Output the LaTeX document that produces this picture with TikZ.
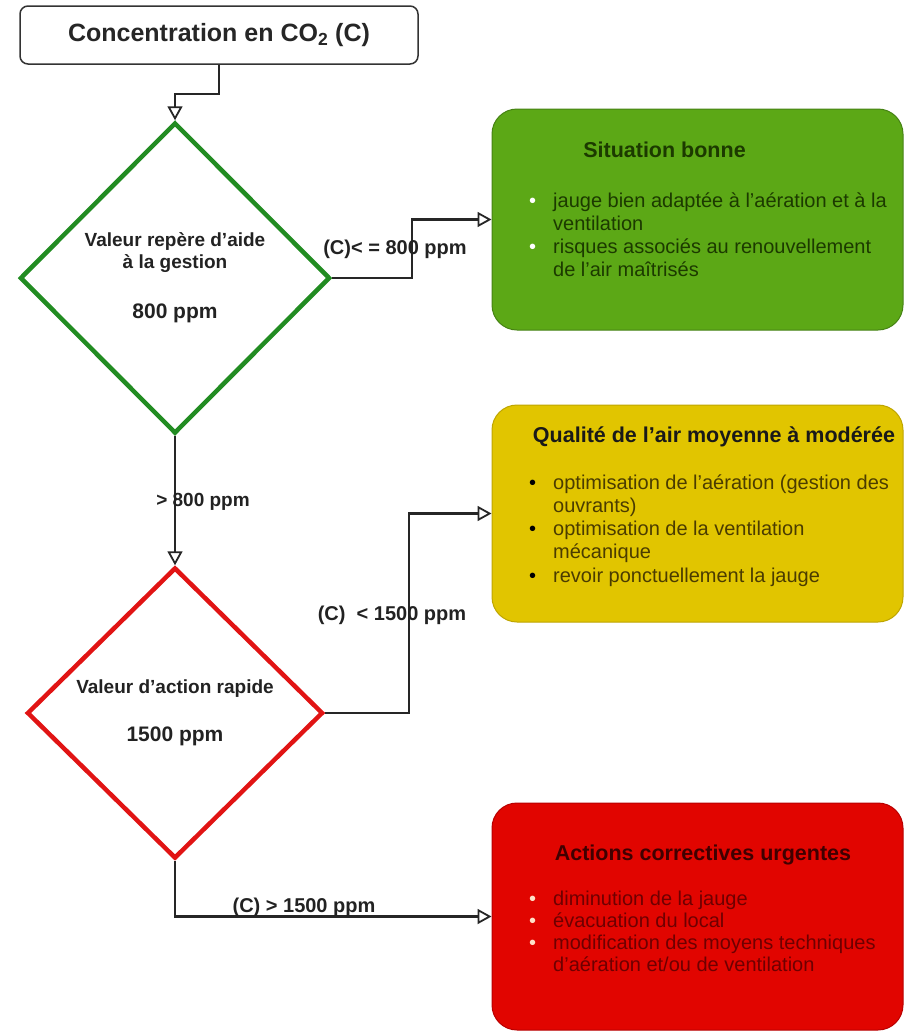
\documentclass[tikz,border=0pt]{standalone}
\usepackage{fontspec}
\setmainfont{Liberation Sans}
\usetikzlibrary{shapes.geometric,arrows.meta}
\definecolor{dgreen}{RGB}{34,140,34}
\definecolor{dred}{RGB}{225,20,20}
\definecolor{gfill}{RGB}{92,168,22}
\definecolor{gdraw}{RGB}{70,130,20}
\definecolor{gtext}{RGB}{28,58,0}
\definecolor{yfill}{RGB}{225,197,0}
\definecolor{ydraw}{RGB}{190,165,0}
\definecolor{ytext}{RGB}{75,60,0}
\definecolor{rfill}{RGB}{225,5,0}
\definecolor{rdraw}{RGB}{185,0,0}
\definecolor{rtext}{RGB}{110,0,0}
\definecolor{rbul}{RGB}{255,225,200}
\definecolor{lbl}{RGB}{34,34,34}
\tikzset{
  topbox/.style={draw=black!80, line width=1.5pt, rounded corners=8pt, fill=white, minimum width=398pt, minimum height=58pt, inner sep=0pt},
  decision/.style={diamond, draw=#1, line width=4.5pt, inner sep=0pt, outer sep=2.25pt},
  resbox/.style={rounded corners=25pt, line width=1pt, minimum width=411pt, inner sep=0pt},
  conn/.style={draw=black!85, line width=2.4pt, -{Triangle[open, length=14pt, width=15pt, line width=1.8pt]}},
  dtext/.style={font=\fontsize{19}{22}\selectfont\bfseries, text=lbl, align=center, inner sep=0pt},
  elabel/.style={font=\fontsize{20}{23}\selectfont\bfseries, text=lbl, inner sep=0pt},
  btitle/.style={font=\fontsize{21.5}{25}\selectfont\bfseries, inner sep=0pt, anchor=base},
  blist/.style={inner sep=0pt, anchor=base west}
}
\newcommand\bl[1]{\makebox[24pt][l]{\color{#1}\textbullet}}
\begin{document}
\begin{tikzpicture}[x=1pt,y=-1pt]
\useasboundingbox (0,0) rectangle (904,1034);

% top box
\node[topbox] (top) at (219,35) {};
\node[font=\fontsize{25}{29}\selectfont\bfseries, text=black!85, inner sep=0pt] (toptxt) at (219,35) {Concentration en CO\textsubscript{2} (C)};

% diamonds
\node[decision=dgreen, minimum width=310pt, minimum height=311pt] (d1) at (175,278) {};
\node[dtext] (d1t) at (175,278) {Valeur repère d’aide\\à la gestion\\[28pt]{\fontsize{21}{24}\selectfont 800 ppm}};

\node[decision=dred, minimum width=296pt, minimum height=291pt] (d2) at (175,713) {};
\node[dtext] (d2t) at (175,713) {Valeur d’action rapide\\[26pt]{\fontsize{21}{24}\selectfont 1500 ppm}};

% result boxes
\node[resbox, fill=gfill, draw=gdraw, minimum height=221pt] (g) at (697.5,219.5) {};
\node[btitle, text=gtext] (gt) at (664.5,157) {Situation bonne};
\node[blist, text=gtext] (gl) at (529,207) {\fontsize{20}{23.3}\selectfont\begin{tabular}[t]{@{}l@{}l@{}}
\bl{white} & jauge bien adaptée à l'aération et à la\\
 & ventilation\\
\bl{white} & risques associés au renouvellement\\
 & de l'air maîtrisés
\end{tabular}};

\node[resbox, fill=yfill, draw=ydraw, minimum height=217pt] (y) at (697.5,513.5) {};
\node[btitle, text=black!90] (yt) at (714,442) {Qualité de l'air moyenne à modérée};
\node[blist, text=ytext] (yl) at (529,489) {\fontsize{20}{23.3}\selectfont\begin{tabular}[t]{@{}l@{}l@{}}
\bl{black} & optimisation de l'aération (gestion des\\
 & ouvrants)\\
\bl{black} & optimisation de la ventilation\\
 & mécanique\\
\bl{black} & revoir ponctuellement la jauge
\end{tabular}};

\node[resbox, fill=rfill, draw=rdraw, minimum height=227pt] (r) at (697.5,916.5) {};
\node[btitle, text=black!75!red] (rt) at (703,860) {Actions correctives urgentes};
\node[blist, text=rtext] (rl) at (529,905) {\fontsize{20}{22.2}\selectfont\begin{tabular}[t]{@{}l@{}l@{}}
\bl{rbul} & diminution de la jauge\\
\bl{rbul} & évacuation du local\\
\bl{rbul} & modification des moyens techniques\\
 & d’aération et/ou de ventilation
\end{tabular}};

% connectors
\draw[conn] (top.south) -- ++(0,29) -| (d1.north);
\draw[conn] (d1.east) -- ++(80,0) |- (g.west);
\draw[conn] (d1.south) -- (d2.north);
\draw[conn] (d2.east) -- ++(84,0) |- (y.west);
\draw[conn] (d2.south) |- (r.west);

% labels
\node[elabel] (l1) at (395,249) {(C)< = 800 ppm};
\node[elabel, font=\fontsize{19}{22}\selectfont\bfseries] (l2) at (203,502) {> 800 ppm};
\node[elabel] (l3) at (392,615) {(C)\ \ < 1500 ppm};
\node[elabel] (l4) at (304,907) {(C) > 1500 ppm};
\end{tikzpicture}
\end{document}
